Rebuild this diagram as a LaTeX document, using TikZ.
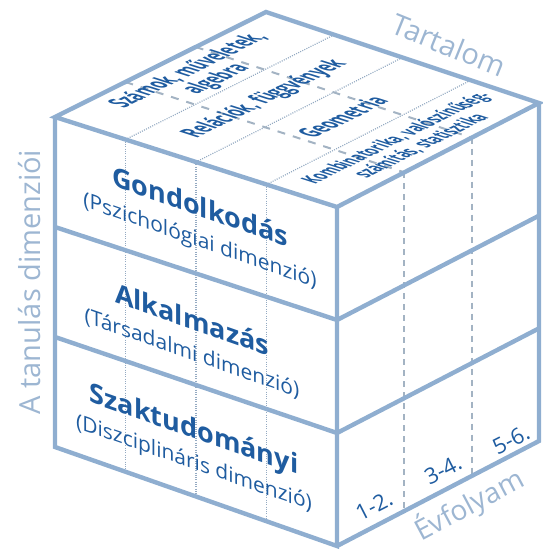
\documentclass[tikz,border=0pt]{standalone}
\usepackage{fontspec}
\setmainfont{Open Sans}
\usetikzlibrary{calc}
\definecolor{edge}{HTML}{8FAED0}
\definecolor{ink}{HTML}{1F5CA0}
\definecolor{axis}{HTML}{9DB6D2}
\definecolor{dotgray}{HTML}{94AAC2}
\definecolor{gridgray}{HTML}{A3B3C3}
\begin{document}
\begin{tikzpicture}[x=1pt,y=-1pt,
  edgeline/.style={draw=edge, line width=4.4pt, line join=miter},
  dotline/.style={draw=dotgray, line width=1.2pt, dash pattern=on 1pt off 1.3pt},
  sidedash/.style={draw=gridgray, line width=1.8pt, dash pattern=on 6pt off 5pt},
  topdash/.style={draw=gridgray, line width=2pt, dash pattern=on 8pt off 8pt},
  frontlabel/.style={text=ink, align=center, yslant=-0.35, inner sep=0pt,
    font=\fontsize{21}{31}\selectfont},
  toplabel/.style={text=ink, align=center, inner sep=0pt,
    cm={0.896,0.444,-1.62,0.517,(0,0)}, font=\fontsize{16}{17}\selectfont\bfseries},
  axislabel/.style={text=axis, inner sep=0pt, font=\fontsize{29}{32}\selectfont},
  gradelabel/.style={text=ink, inner sep=0pt, rotate=27, font=\fontsize{22}{24}\selectfont},
]
\useasboundingbox (0,0) rectangle (542,551);

% cube corners
\coordinate (Lt) at (55,117);
\coordinate (Nt) at (337,207);
\coordinate (Rt) at (539,103);
\coordinate (Bt) at (266,12);
\coordinate (Lb) at (55,447);
\coordinate (Nb) at (337,546);
\coordinate (Rb) at (539,441);

% content columns: dotted lines on the front face and on the top
\foreach \k in {1,2,3} {
  \draw[dotline] ($(Lt)!\k/4!(Nt)$) -- ($(Lb)!\k/4!(Nb)$);
  \draw[dotline] ($(Lt)!\k/4!(Nt)$) -- ($(Bt)!\k/4!(Rt)$);
}
% grade columns: dashed lines on the right face and on the top
\foreach \k in {1,2} {
  \draw[sidedash] ($(Nt)!\k/3!(Rt)$) -- ($(Nb)!\k/3!(Rb)$);
  \draw[topdash] ($(Lt)!\k/3!(Bt)$) -- ($(Nt)!\k/3!(Rt)$);
}

% layer boundaries
\foreach \k in {1,2} {
  \draw[edgeline] ($(Lt)!\k/3!(Lb)$) -- ($(Nt)!\k/3!(Nb)$) -- ($(Rt)!\k/3!(Rb)$);
}
% cube edges
\draw[edgeline] (Lt) -- (Bt) -- (Rt) -- (Nt) -- cycle;
\draw[edgeline] (Lt) -- (Lb) -- (Nb) -- (Nt);
\draw[edgeline] (Nb) -- (Rb) -- (Rt);

% learning dimensions on the front face
\node[frontlabel] (gond) at (200,224)
  {{\fontsize{27}{31}\selectfont\bfseries Gondolkodás}\\(Pszichológiai dimenzió)};
\node[frontlabel] (alk) at (192,336)
  {{\fontsize{27}{31}\selectfont\bfseries Alkalmazás}\\(Társadalmi dimenzió)};
\node[frontlabel] (szak) at (194,446)
  {{\fontsize{27}{31}\selectfont\bfseries Szaktudományi}\\(Diszciplináris dimenzió)};

% content areas on the top face
\node[toplabel] (szam) at (203,75) {Számok, műveletek,\\algebra};
\node[toplabel] (rel) at (265,99) {Relációk, függvények};
\node[toplabel] (geo) at (342,117) {Geometria};
\node[toplabel, font=\fontsize{13.5}{15}\selectfont\bfseries] (komb) at (409,142)
  {Kombinatorika, valószínűség-\\számítás, statisztika};

% grades on the right face
\node[gradelabel] (g12) at (374,506) {1-2.};
\node[gradelabel] (g34) at (443,470) {3-4.};
\node[gradelabel] (g56) at (511,440) {5-6.};

% axis titles
\node[axislabel, rotate=-22] (tart) at (449,45) {Tartalom};
\node[axislabel, rotate=28, font=\fontsize{28}{30}\selectfont] (evf) at (469,505) {Évfolyam};
\node[axislabel, rotate=90] (dim) at (30,282) {A tanulás dimenziói};
\end{tikzpicture}
\end{document}
